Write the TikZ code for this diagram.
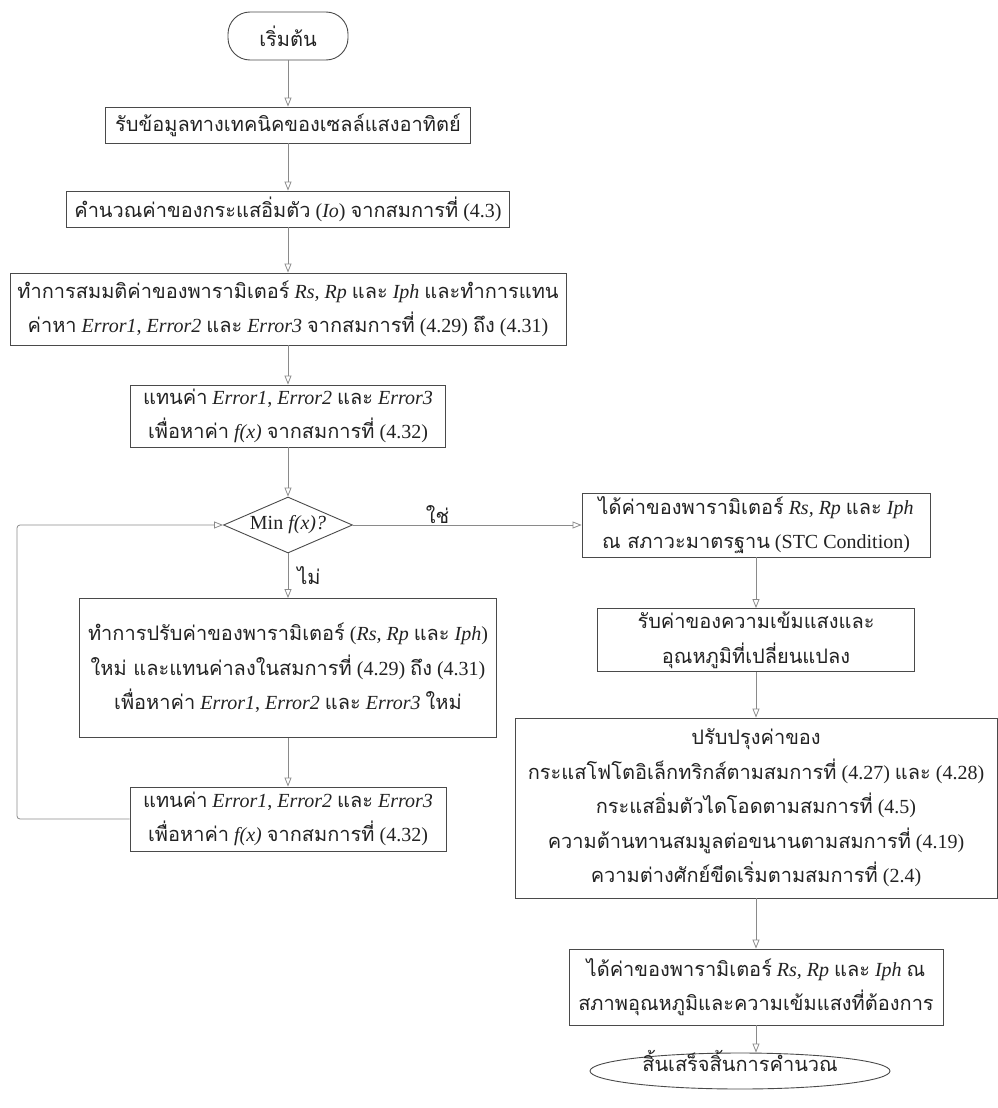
\documentclass[tikz,border=0pt]{standalone}
\usepackage{fontspec}
\setmainfont{Liberation Serif}
\newfontfamily\thaifont[Script=Thai]{Loma}
\newcommand\T[1]{{\thaifont #1}}
\usetikzlibrary{arrows.meta,shapes.geometric}

\definecolor{boxgray}{HTML}{4A4A4A}
\definecolor{linegray}{HTML}{8A8A8A}
\definecolor{textcol}{HTML}{222222}

\tikzset{
  stepbox/.style={draw=boxgray, line width=0.9pt, rectangle, inner sep=0pt,
    align=center, text=textcol, font=\fontsize{20}{34.5}\selectfont},
  termbox/.style={stepbox, rounded corners=22pt},
  decision/.style={stepbox, diamond, aspect=2.3},
  flow/.style={draw=linegray, line width=0.8pt,
    -{Triangle[open, length=9pt, width=7pt]}},
  flowlabel/.style={text=textcol, font=\fontsize{20}{24}\selectfont, inner sep=1pt},
}

\begin{document}
\begin{tikzpicture}[x=1pt,y=-1pt]
\path[use as bounding box] (0,0) rectangle (997,1108);

% left column
\node[termbox, minimum width=120pt, minimum height=48pt] (start) at (288,36) {\T{เริ่มต้น}};
\node[stepbox, minimum width=365pt, minimum height=36pt] (b1) at (288,125)
  {\T{รับข้อมูลทางเทคนิคของเซลล์แสงอาทิตย์}};
\node[stepbox, minimum width=443pt, minimum height=36pt] (b2) at (288,209)
  {\T{คำนวณค่าของกระแสอิ่มตัว} (\textit{Io}) \T{จากสมการที่} (4.3)};
\node[stepbox, minimum width=556pt, minimum height=72pt] (b3) at (288,309)
  {\T{ทำการสมมติค่าของพารามิเตอร์} \textit{Rs, Rp} \T{และ} \textit{Iph} \T{และทำการแทน}\\
   \T{ค่าหา} \textit{Error1}, \textit{Error2} \T{และ} \textit{Error3} \T{จากสมการที่} (4.29) \T{ถึง} (4.31)};
\node[stepbox, minimum width=315pt, minimum height=62pt] (b4) at (288,416)
  {\T{แทนค่า} \textit{Error1}, \textit{Error2} \T{และ} \textit{Error3}\\
   \T{เพื่อหาค่า} \textit{f(x)} \T{จากสมการที่} (4.32)};
\node[decision, minimum width=129pt, minimum height=56pt] (d) at (288,525)
  {Min \textit{f(x)?}};
\node[stepbox, minimum width=417pt, minimum height=139pt] (b5) at (288,668)
  {\T{ทำการปรับค่าของพารามิเตอร์} (\textit{Rs, Rp} \T{และ} \textit{Iph})\\
   \T{ใหม่ และแทนค่าลงในสมการที่} (4.29) \T{ถึง} (4.31)\\
   \T{เพื่อหาค่า} \textit{Error1}, \textit{Error2} \T{และ} \textit{Error3} \T{ใหม่}};
\node[stepbox, minimum width=316pt, minimum height=64pt] (b6) at (288,819)
  {\T{แทนค่า} \textit{Error1}, \textit{Error2} \T{และ} \textit{Error3}\\
   \T{เพื่อหาค่า} \textit{f(x)} \T{จากสมการที่} (4.32)};

% right column
\node[stepbox, minimum width=348pt, minimum height=64pt] (r1) at (756,525)
  {\T{ได้ค่าของพารามิเตอร์} \textit{Rs, Rp} \T{และ} \textit{Iph}\\
   \T{ณ สภาวะมาตรฐาน} (STC Condition)};
\node[stepbox, minimum width=317pt, minimum height=63pt] (r2) at (756,640)
  {\T{รับค่าของความเข้มแสงและ}\\ \T{อุณหภูมิที่เปลี่ยนแปลง}};
\node[stepbox, minimum width=482pt, minimum height=180pt] (r3) at (756,808)
  {\T{ปรับปรุงค่าของ}\\
   \T{กระแสโฟโตอิเล็กทริกส์ตามสมการที่} (4.27) \T{และ} (4.28)\\
   \T{กระแสอิ่มตัวไดโอดตามสมการที่} (4.5)\\
   \T{ความต้านทานสมมูลต่อขนานตามสมการที่} (4.19)\\
   \T{ความต่างศักย์ขีดเริ่มตามสมการที่} (2.4)};
\node[stepbox, minimum width=374pt, minimum height=76pt] (r6) at (756,987)
  {\T{ได้ค่าของพารามิเตอร์} \textit{Rs, Rp} \T{และ} \textit{Iph} \T{ณ}\\
   \T{สภาพอุณหภูมิและความเข้มแสงที่ต้องการ}};
\node[stepbox, ellipse, minimum width=300pt, minimum height=36pt] (e) at (740,1071)
  {\smash{\makebox[0pt]{\T{สิ้นเสร็จสิ้นการคำนวณ}}}};

% connectors
\draw[flow] (start) -- (b1);
\draw[flow] (b1) -- (b2);
\draw[flow] (b2) -- (b3);
\draw[flow] (b3) -- (b4);
\draw[flow] (b4) -- (d);
\draw[flow] (d) -- node[flowlabel, right=8pt] {\T{ไม่}} (b5);
\draw[flow] (b5) -- (b6);
\coordinate (loopcorner) at (17,819);
\draw[flow, rounded corners=3pt] (b6.west) -- (loopcorner) |- (d.west);
\draw[flow] (d) -- node[flowlabel, pos=0.37, above=0pt] {\T{ใช่}} (r1);
\draw[flow] (r1) -- (r2);
\draw[flow] (r2) -- (r3);
\draw[flow] (r3) -- (r6);
\draw[flow] (r6.south) -- (r6.south |- e.north);
\end{tikzpicture}
\end{document}
